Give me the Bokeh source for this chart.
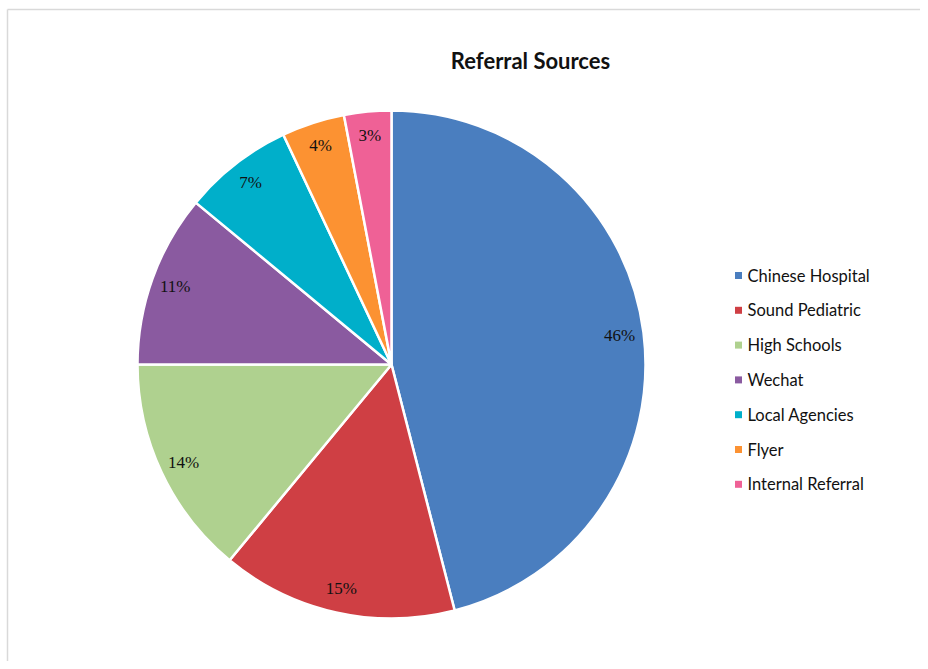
import math
from bokeh.plotting import figure
from bokeh.models import Range1d, ColumnDataSource
from bokeh.core.properties import value
from bokeh.embed import file_html
from bokeh.resources import INLINE

title = "Referral Sources"
categories = ["Chinese Hospital", "Sound Pediatric", "High Schools", "Wechat",
              "Local Agencies", "Flyer", "Internal Referral"]
shares = [46, 15, 14, 11, 7, 4, 3]
colors = ["#4a7ebf", "#cf3f44", "#afd18f", "#8a5aa0", "#00afca", "#fc9232", "#ef6196"]

W, H = 920, 661
p = figure(width=W, height=H, output_backend="svg", toolbar_location=None,
           x_range=Range1d(0, W), y_range=Range1d(0, H), min_border=0)
p.axis.visible = False
p.grid.visible = False
p.outline_line_color = None
p.background_fill_color = "white"
p.border_fill_color = "white"

# frame border (top and left edges visible)
p.segment(x0=[7, 7], y0=[H - 9, H - 9], x1=[W, 7], y1=[H - 9, 0],
          line_color="#d9d9d9", line_width=1.5)

# layout (pixel-based)
cx, cy, R = 391, H - 364, 254
total = sum(shares)
starts, ends, lx, ly, labels = [], [], [], [], []
cum = 0.0
for s in shares:
    a0 = math.pi / 2 - 2 * math.pi * (cum + s) / total
    a1 = math.pi / 2 - 2 * math.pi * cum / total
    starts.append(a0)
    ends.append(a1)
    mid = (a0 + a1) / 2
    lx.append(cx + 0.905 * R * math.cos(mid))
    ly.append(cy + 0.905 * R * math.sin(mid))
    labels.append(f"{s}%")
    cum += s

src = ColumnDataSource(dict(start=starts, end=ends, color=colors,
                            lx=lx, ly=ly, label=labels))
p.wedge(x=cx, y=cy, radius=R, start_angle="start", end_angle="end",
        fill_color="color", line_color="white", line_width=2.5, source=src)
p.text(x="lx", y="ly", text="label", source=src, text_font=value("Liberation Serif"),
       text_font_size="17px", text_align="center", text_baseline="middle",
       text_color="#111111")

# title
p.text(x=[530], y=[H - 60], text=[title], text_font=value("Lato"),
       text_font_size="22px", text_font_style="bold", text_align="center",
       text_baseline="middle", text_color="#111111")

# legend
leg_x = 738
leg_y0 = H - 275
step = 34.8
ys = [leg_y0 - i * step for i in range(len(categories))]
p.rect(x=[leg_x] * len(categories), y=ys, width=7, height=7,
       fill_color=colors, line_color=None)
p.text(x=[leg_x + 9] * len(categories), y=ys, text=categories,
       text_font=value("Lato"), text_font_size="16.5px", text_align="left",
       text_baseline="middle", text_color="#111111")

open("out.html", "w").write(file_html(p, INLINE))
